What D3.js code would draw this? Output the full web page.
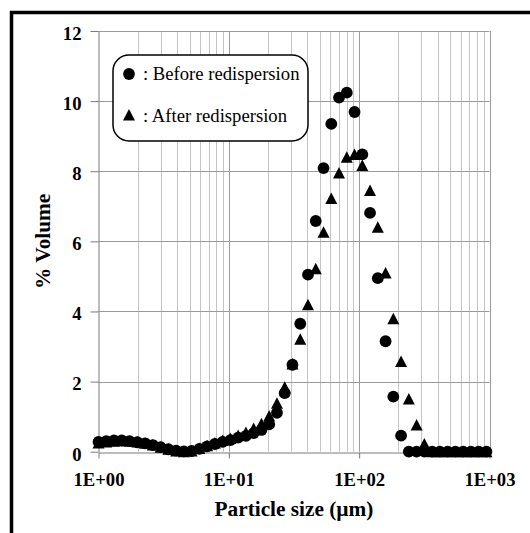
<!DOCTYPE html>
<html>
<head>
<meta charset="utf-8">
<script src="https://cdn.jsdelivr.net/npm/d3@7"></script>
<style>
  html, body { margin: 0; padding: 0; background: #fff; }
  svg { display: block; }
</style>
</head>
<body>
<div id="chart"></div>
<script>
// ---- data ----
const particleSize = [1.00, 1.147, 1.315, 1.509, 1.730, 1.985, 2.276, 2.611, 2.995, 3.435,
  3.939, 4.518, 5.182, 5.943, 6.816, 7.816, 8.965, 10.28, 11.79, 13.53,
  15.51, 17.79, 20.40, 23.40, 26.84, 30.78, 35.31, 40.49, 46.44, 53.27,
  61.09, 70.06, 80.35, 92.16, 105.7, 121.2, 139.0, 159.5, 182.9, 209.7,
  240.5, 275.9, 316.4, 362.9, 416.2, 477.4, 547.5, 628.0, 720.2, 826.0, 947.3];
const beforeRedispersion = [0.28, 0.30, 0.32, 0.32, 0.30, 0.27, 0.24, 0.19, 0.13, 0.07,
  0.03, 0.01, 0.02, 0.08, 0.15, 0.22, 0.28, 0.33, 0.40, 0.45,
  0.53, 0.62, 0.78, 1.11, 1.67, 2.48, 3.65, 5.05, 6.58, 8.09,
  9.35, 10.10, 10.24, 9.69, 8.48, 6.81, 4.95, 3.15, 1.57, 0.46,
  0, 0, 0, 0, 0, 0, 0, 0, 0, 0, 0];
const afterRedispersion = [0.25, 0.28, 0.30, 0.31, 0.30, 0.28, 0.24, 0.19, 0.13, 0.07,
  0.02, 0.00, 0.02, 0.09, 0.17, 0.25, 0.32, 0.38, 0.46, 0.55,
  0.66, 0.80, 1.02, 1.38, 1.84, 2.50, 3.21, 4.19, 5.22, 6.26,
  7.22, 7.95, 8.40, 8.48, 8.16, 7.45, 6.40, 5.10, 3.79, 2.57,
  1.50, 0.76, 0.22, 0, 0, 0, 0, 0, 0, 0, 0];
const xTickValues = [1, 10, 100, 1000];
const xTickLabels = ["1E+00", "1E+01", "1E+02", "1E+03"];
const yTickValues = [0, 2, 4, 6, 8, 10, 12];
const seriesNames = [": Before redispersion", ": After redispersion"];

// ---- layout ----
const W = 530, H = 533;
const L = 98.5, R = 489.5, T = 31, B = 451.7;
const serif = "'Liberation Serif', 'Times New Roman', serif";

const svg = d3.select("#chart").append("svg").attr("width", W).attr("height", H);

// outer frame
svg.append("rect").attr("x", 11.5).attr("y", 12.5).attr("width", 700).attr("height", 700)
  .attr("fill", "none").attr("stroke", "#000").attr("stroke-width", 3.5);

const x = d3.scaleLog().domain([1, 1000]).range([L, R]);
const y = d3.scaleLinear().domain([0, 12]).range([B, T]);

// gridlines
const grid = svg.append("g");
const minor = x.ticks().filter(v => !xTickValues.includes(v));
grid.selectAll("line.vminor").data(minor).enter().append("line")
  .attr("x1", d => Math.round(x(d)) + 0.5).attr("x2", d => Math.round(x(d)) + 0.5)
  .attr("y1", T).attr("y2", B).attr("stroke", "#c4c4c4").attr("stroke-width", 1);
grid.selectAll("line.vmajor").data(xTickValues.slice(1)).enter().append("line")
  .attr("x1", d => Math.round(x(d)) + 0.5).attr("x2", d => Math.round(x(d)) + 0.5)
  .attr("y1", T).attr("y2", B).attr("stroke", "#9a9a9a").attr("stroke-width", 1);
grid.selectAll("line.h").data(yTickValues.slice(1)).enter().append("line")
  .attr("x1", L).attr("x2", R)
  .attr("y1", d => Math.round(y(d)) + 0.5).attr("y2", d => Math.round(y(d)) + 0.5)
  .attr("stroke", "#9a9a9a").attr("stroke-width", 1);

// axes
const xAxis = d3.axisBottom(x).tickValues(xTickValues).tickFormat((d, i) => xTickLabels[i])
  .tickSizeInner(6).tickSizeOuter(0).tickPadding(14);
const gx = svg.append("g").attr("transform", `translate(0,${Math.round(B) + 0.5})`).call(xAxis);
gx.select(".domain").attr("stroke", "#7a7a7a");
gx.selectAll(".tick line").attr("stroke", "#7a7a7a");
gx.selectAll(".tick text").attr("font-family", serif).attr("font-weight", "bold")
  .attr("font-size", "18.67px").attr("fill", "#000").attr("dy", "0.71em");

const yAxis = d3.axisLeft(y).tickValues(yTickValues).tickFormat(d3.format("d"))
  .tickSizeInner(8).tickSizeOuter(0).tickPadding(9);
const gy = svg.append("g").attr("transform", `translate(${Math.round(L) - 0.5},0)`).call(yAxis);
gy.select(".domain").attr("stroke", "#7a7a7a");
gy.selectAll(".tick line").attr("stroke", "#7a7a7a");
gy.selectAll(".tick text").attr("font-family", serif).attr("font-weight", "bold")
  .attr("font-size", "18.67px").attr("fill", "#000").attr("dy", "0.45em");

// axis titles
svg.append("text").attr("x", (L + R) / 2).attr("y", 516).attr("text-anchor", "middle")
  .attr("font-family", serif).attr("font-weight", "bold").attr("font-size", "21.3px")
  .text("Particle size (µm)");
svg.append("text").attr("transform", `translate(50,${(T + B) / 2}) rotate(-90)`)
  .attr("text-anchor", "middle")
  .attr("font-family", serif).attr("font-weight", "bold").attr("font-size", "21.3px")
  .text("% Volume");

// markers
const tri = (cx, cy) => `M${cx},${cy - 6}L${cx + 6},${cy + 5.5}L${cx - 6},${cy + 5.5}Z`;
const before = particleSize.map((s, i) => ({ s, v: beforeRedispersion[i] }));
const after = particleSize.map((s, i) => ({ s, v: afterRedispersion[i] }));
svg.append("g").selectAll("circle").data(before).enter().append("circle")
  .attr("cx", d => x(d.s)).attr("cy", d => y(d.v)).attr("r", 5.9).attr("fill", "#000");
svg.append("g").selectAll("path").data(after).enter().append("path")
  .attr("d", d => tri(x(d.s), y(d.v))).attr("fill", "#000");

// legend
const lg = svg.append("g");
lg.append("rect").attr("x", 113).attr("y", 55).attr("width", 195).attr("height", 86)
  .attr("rx", 16).attr("ry", 16).attr("fill", "#fff").attr("stroke", "#000").attr("stroke-width", 1.5);
lg.append("circle").attr("cx", 129).attr("cy", 74).attr("r", 5.9).attr("fill", "#000");
lg.append("path").attr("d", tri(129, 115)).attr("fill", "#000");
lg.append("text").attr("x", 143).attr("y", 80).attr("font-family", serif).attr("font-size", "18.67px")
  .text(seriesNames[0]);
lg.append("text").attr("x", 143).attr("y", 121.5).attr("font-family", serif).attr("font-size", "18.67px")
  .text(seriesNames[1]);
</script>
</body>
</html>
